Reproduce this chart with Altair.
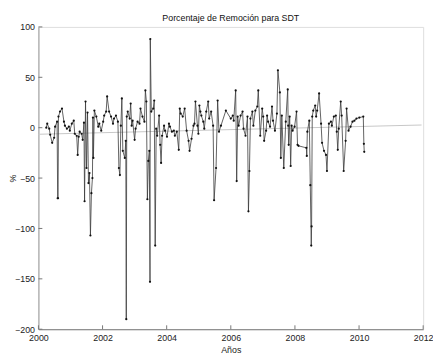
import altair as alt
import pandas as pd

years = [2000.245, 2000.275, 2000.337, 2000.367, 2000.429, 2000.490, 2000.520, 2000.582, 2000.600, 2000.612,
         2000.625, 2000.673, 2000.735, 2000.796, 2000.826, 2000.888, 2000.949, 2000.979, 2001.041, 2001.102,
         2001.133, 2001.194, 2001.224, 2001.255, 2001.286, 2001.347, 2001.380, 2001.420, 2001.439, 2001.469,
         2001.500, 2001.531, 2001.561, 2001.592, 2001.622, 2001.653, 2001.684, 2001.700, 2001.714, 2001.745,
         2001.806, 2001.867, 2001.898, 2001.959, 2002.020, 2002.051, 2002.112, 2002.143, 2002.204, 2002.265,
         2002.326, 2002.357, 2002.418, 2002.479, 2002.510, 2002.541, 2002.571, 2002.602, 2002.632, 2002.694,
         2002.724, 2002.740, 2002.755, 2002.785, 2002.847, 2002.877, 2002.908, 2002.938, 2003.000, 2003.030,
         2003.092, 2003.153, 2003.183, 2003.245, 2003.306, 2003.336, 2003.367, 2003.398, 2003.428, 2003.459,
         2003.480, 2003.489, 2003.520, 2003.581, 2003.612, 2003.642, 2003.673, 2003.704, 2003.765, 2003.796,
         2003.826, 2003.857, 2003.918, 2003.949, 2004.010, 2004.071, 2004.102, 2004.163, 2004.224, 2004.255,
         2004.316, 2004.377, 2004.408, 2004.438, 2004.500, 2004.561, 2004.622, 2004.683, 2004.714, 2004.775,
         2004.836, 2004.867, 2004.897, 2004.959, 2004.989, 2005.020, 2005.051, 2005.081, 2005.142, 2005.173,
         2005.234, 2005.295, 2005.326, 2005.387, 2005.448, 2005.479, 2005.540, 2005.589, 2005.632, 2005.693,
         2005.846, 2005.999, 2006.061, 2006.091, 2006.152, 2006.183, 2006.214, 2006.244, 2006.306, 2006.367,
         2006.397, 2006.459, 2006.520, 2006.550, 2006.581, 2006.612, 2006.673, 2006.704, 2006.765, 2006.826,
         2006.857, 2006.918, 2006.979, 2007.010, 2007.040, 2007.101, 2007.132, 2007.163, 2007.224, 2007.285,
         2007.316, 2007.377, 2007.438, 2007.469, 2007.530, 2007.560, 2007.591, 2007.652, 2007.714, 2007.775,
         2007.790, 2007.805, 2007.836, 2007.867, 2007.897, 2007.928, 2007.989, 2008.050, 2008.081, 2008.111,
         2008.356, 2008.370, 2008.387, 2008.448, 2008.479, 2008.509, 2008.520, 2008.540, 2008.571, 2008.632,
         2008.662, 2008.693, 2008.754, 2008.815, 2008.846, 2008.907, 2008.969, 2008.999, 2009.060, 2009.122,
         2009.152, 2009.213, 2009.275, 2009.305, 2009.336, 2009.366, 2009.428, 2009.458, 2009.520, 2009.581,
         2009.611, 2009.672, 2009.734, 2009.795, 2009.856, 2009.918, 2010.009, 2010.132, 2010.150, 2010.162]

removal = [0, 4, -1, -7, -15, -10, 1, 6, -70, -70,
           11, 16, 19, 6, 2, -1, 1, -3, 4, 7,
           -6, -8, -27, -9, -4, -6, -12, 5, -73, 26,
           -40, 15, -55, -45, -107, -65, -50, 10, -30, 17,
           11, 1, 4, -3, 6, 12, 16, 31, 16, 11,
           4, 9, 12, 6, -40, -47, 2, 29, -23, -30,
           -13, -190, 11, 16, 9, 24, 2, 7, -12, -1,
           6, 4, 19, 11, 6, 37, 26, -71, -33, -23,
           -153, 88, 16, 19, 27, -117, -1, -8, 12, -17,
           -35, -8, 2, -3, -9, 4, 1, -4, -3, -8,
           -4, -22, 19, 14, 11, 19, -3, -13, -23, -11,
           2, 4, 26, 2, -6, 22, 16, 12, 6, -1,
           16, 26, 9, 16, 2, -72, -40, 27, -4, 2,
           17, 9, 12, 7, 37, -53, 11, 2, 12, 16,
           -1, -8, 11, -83, -43, 9, 16, 2, 17, 21,
           37, -8, 19, 11, -13, -3, 12, 6, 1, 21,
           7, -3, 14, 57, 35, -30, 12, -40, 6, 38,
           2, -17, 11, -38, 2, -3, 1, 16, -17, -18,
           -20, -28, -4, 7, -57, -117, -98, 11, 17, 22,
           11, 17, 34, 4, -15, -23, -27, -43, 4, 6,
           2, 11, 12, -4, -22, -1, 26, 12, -43, -13,
           19, -3, 1, 6, 7, 9, 10, 11, -16, -24]

trend_years = [2000.0, 2011.95]
trend_values = [-6.5, 2.7]

x_ticks = [2000, 2002, 2004, 2006, 2008, 2010, 2012]
y_ticks = [-200, -150, -100, -50, 0, 50, 100]

W, H = 392, 308
FONT = "Liberation Sans"

df = pd.DataFrame({"year": years, "pct": removal})
trend = pd.DataFrame({"year": trend_years, "pct": trend_values})
xt = pd.DataFrame({"t": x_ticks})
yt = pd.DataFrame({"t": y_ticks})

xscale = alt.Scale(domain=[2000, 2012], nice=False, zero=False)
yscale = alt.Scale(domain=[-200, 100], nice=False, zero=False)

xaxis = alt.Axis(values=x_ticks, format="d", title="Años", grid=False, tickSize=0,
                 labelPadding=5, titlePadding=3, labelFlush=False, domainColor="#777",
                 labelColor="#222", titleColor="#222", labelFont=FONT, titleFont=FONT,
                 labelFontSize=9, titleFontSize=9, titleFontWeight="normal")
yaxis = alt.Axis(values=y_ticks, title="%", grid=False, tickSize=0, labelPadding=4,
                 labelFlush=False, domainColor="#999", labelColor="#222",
                 titleColor="#222", labelFont=FONT, titleFont=FONT, labelFontSize=9,
                 titleFontSize=9, titleFontWeight="normal", titleAngle=270,
                 titleX=-26, titleY=H / 2, titleAlign="center", titleBaseline="middle")

trend_line = alt.Chart(trend).mark_line(color="#c8c8c8", strokeWidth=1.2).encode(
    x=alt.X("year:Q", scale=xscale, axis=xaxis),
    y=alt.Y("pct:Q", scale=yscale, axis=yaxis),
)

line = alt.Chart(df).mark_line(color="#3a3a3a", strokeWidth=0.8).encode(
    x=alt.X("year:Q", scale=xscale),
    y=alt.Y("pct:Q", scale=yscale),
)

pts = alt.Chart(df).mark_point(filled=True, color="#111", size=5, opacity=1).encode(
    x=alt.X("year:Q", scale=xscale),
    y=alt.Y("pct:Q", scale=yscale),
)

xtick_marks = alt.Chart(xt).mark_rule(color="#777", strokeWidth=1).encode(
    x=alt.X("t:Q", scale=xscale),
    y=alt.value(H),
    y2=alt.value(H - 4),
)
ytick_marks = alt.Chart(yt).mark_rule(color="#777", strokeWidth=1).encode(
    y=alt.Y("t:Q", scale=yscale),
    x=alt.value(0),
    x2=alt.value(4),
)

chart = alt.layer(trend_line, line, pts, xtick_marks, ytick_marks).properties(
    width=W,
    height=H,
    title=alt.TitleParams("Porcentaje de Remoción para SDT", font=FONT, fontSize=9,
                          fontWeight="normal", color="#111", offset=0),
    autosize=alt.AutoSizeParams(type="none"),
    padding={"left": 31, "top": 16, "right": 10, "bottom": 24},
).configure_view(stroke=None).configure(background="white")

chart.save("out.html", embed_options={"renderer": "svg", "actions": False})
